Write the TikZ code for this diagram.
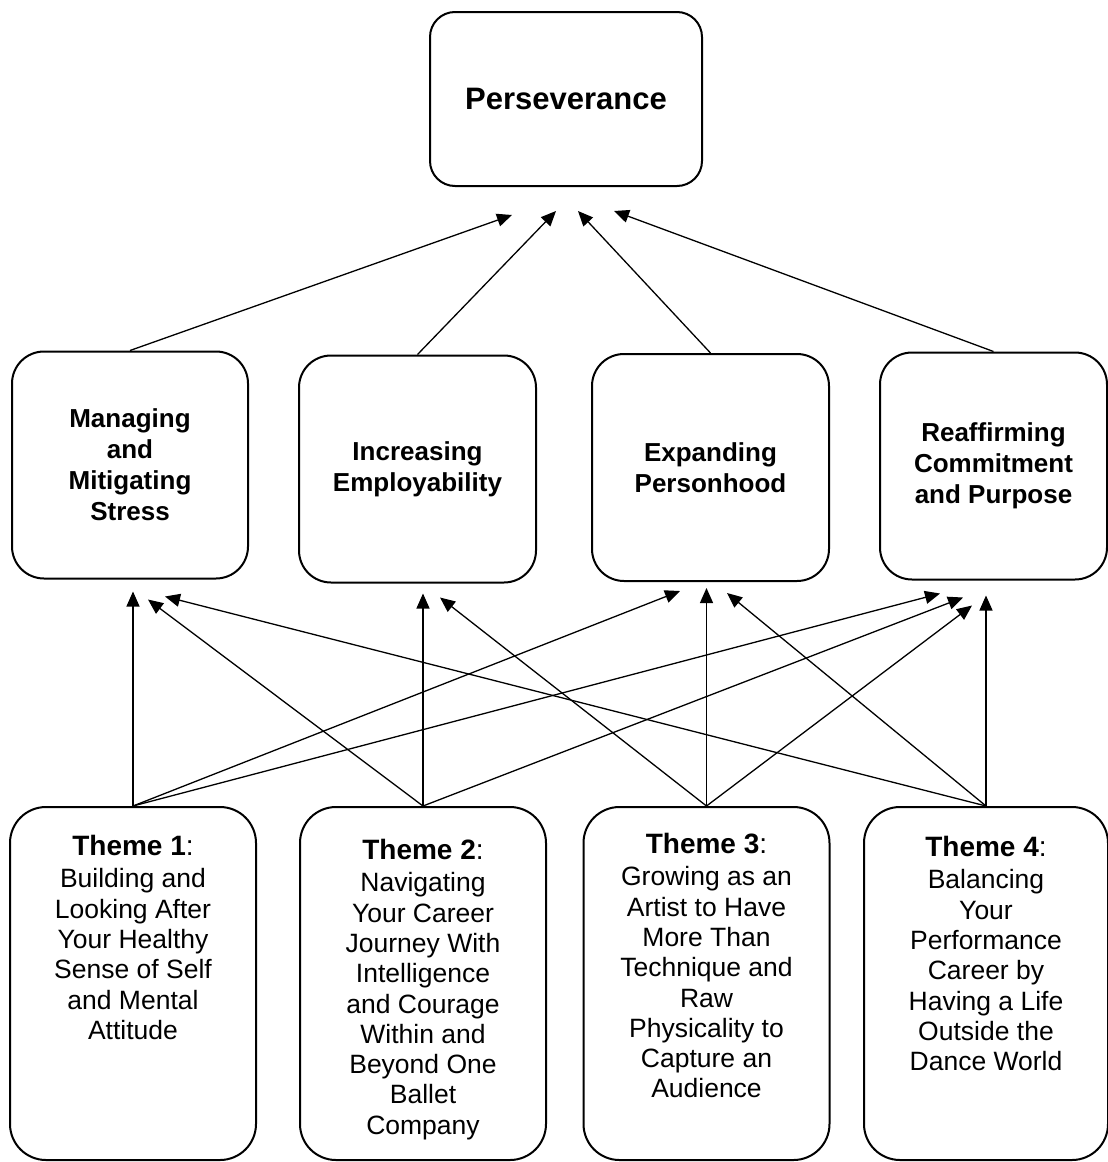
\documentclass[tikz,border=0pt]{standalone}
\usepackage{fontspec}
\setmainfont{Liberation Sans}
\usetikzlibrary{arrows.meta}

\tikzset{
  topbox/.style={draw, line width=2pt, rounded corners=25pt, minimum width=272pt, minimum height=174pt, font=\bfseries\fontsize{31}{36}\selectfont},
  midbox/.style={draw, line width=2pt, rounded corners=32pt, minimum height=227pt, align=center, font=\bfseries\fontsize{26}{31}\selectfont},
  themebox/.style={draw, line width=2pt, rounded corners=36pt, minimum width=246pt, minimum height=353pt},
  themetext/.style={anchor=north, align=center, inner sep=0pt, font=\fontsize{26.5}{30.3}\selectfont},
  arr/.style={-{Triangle[length=15pt,width=13pt]}, line width=1.3pt},
}
\newcommand{\themehead}[1]{{\fontsize{28}{32}\selectfont\textbf{Theme #1}:}\\[2pt]}

\begin{document}
\begin{tikzpicture}[x=1pt,y=-1pt]
  \useasboundingbox (0,0) rectangle (1108,1162);

  \node[topbox] (top) at (566,99) {Perseverance};

  \node[midbox, minimum width=236pt] (b1) at (130,465) {Managing\\and\\Mitigating\\Stress};
  \node[midbox, minimum width=237pt] (b2) at (417.5,469) {Increasing\\Employability};
  \node[midbox, minimum width=237pt] (b3) at (710.5,467.5) {Expanding\\Personhood};
  \node[midbox, minimum width=227pt] (b4) at (993.5,466) {Reaffirming\\Commitment\\and Purpose};

  \node[themebox] (t1) at (133,983.5) {};
  \node[themebox] (t2) at (423,983.5) {};
  \node[themebox] (t3) at (706.5,983.5) {};
  \node[themebox, minimum width=244pt] (t4) at (986,983.5) {};

  \node[themetext] (t1txt) at ([yshift=-29pt]t1.north) {\themehead{1}Building and\\Looking After\\Your Healthy\\Sense of Self\\and Mental\\Attitude};
  \node[themetext] (t2txt) at ([yshift=-33pt]t2.north) {\themehead{2}Navigating\\Your Career\\Journey With\\Intelligence\\and Courage\\Within and\\Beyond One\\Ballet\\Company};
  \node[themetext] (t3txt) at ([yshift=-27pt]t3.north) {\themehead{3}Growing as an\\Artist to Have\\More Than\\Technique and\\Raw\\Physicality to\\Capture an\\Audience};
  \node[themetext] (t4txt) at ([yshift=-30pt]t4.north) {\themehead{4}Balancing\\Your\\Performance\\Career by\\Having a Life\\Outside the\\Dance World};

  \draw[arr] (b1.north) -- ([xshift=-54pt,yshift=-28pt]top.south);
  \draw[arr] (b2.north) -- ([xshift=-10pt,yshift=-24pt]top.south);
  \draw[arr] (b3.north) -- ([xshift=12pt,yshift=-24pt]top.south);
  \draw[arr] (b4.north) -- ([xshift=48pt,yshift=-24pt]top.south);

  \draw[arr] (t1.north) -- ([xshift=3pt,yshift=-12pt]b1.south);
  \draw[arr] (t1.north) -- ([xshift=-30.5pt,yshift=-9pt]b3.south);
  \draw[arr] (t1.north) -- ([xshift=-53.5pt,yshift=-13pt]b4.south);
  \draw[arr] (t2.north) -- ([xshift=18pt,yshift=-20pt]b1.south);
  \draw[arr] (t2.north) -- ([xshift=5.5pt,yshift=-10pt]b2.south);
  \draw[arr] (t2.north) -- ([xshift=-30.5pt,yshift=-17pt]b4.south);
  \draw[arr] (t3.north) -- ([xshift=22.5pt,yshift=-14pt]b2.south);
  \draw[arr] (t3.north) -- ([xshift=-4pt,yshift=-6pt]b3.south);
  \draw[arr] (t3.north) -- ([xshift=-21.5pt,yshift=-25pt]b4.south);
  \draw[arr] (t4.north) -- ([xshift=35pt,yshift=-17pt]b1.south);
  \draw[arr] (t4.north) -- ([xshift=16.5pt,yshift=-11pt]b3.south);
  \draw[arr] (t4.north) -- ([xshift=-7.5pt,yshift=-15pt]b4.south);
\end{tikzpicture}
\end{document}
